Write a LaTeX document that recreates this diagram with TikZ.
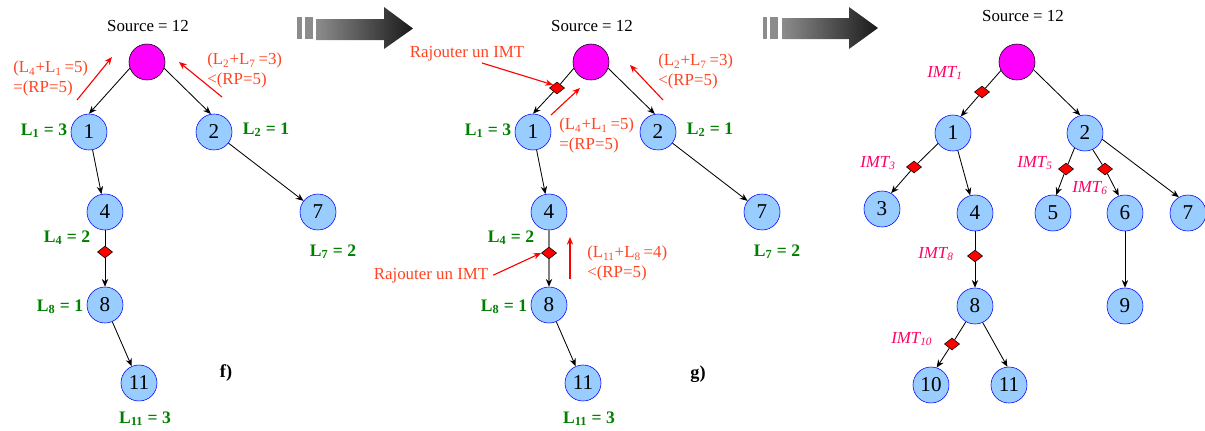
\documentclass[tikz,border=0pt]{standalone}
\usepackage{fontspec}
\setmainfont{Liberation Serif}
\usetikzlibrary{arrows.meta, shapes.geometric}

\definecolor{bleunoeud}{HTML}{99CCFF}
\definecolor{vertcharge}{HTML}{008000}
\definecolor{rougenote}{HTML}{FF4422}
\definecolor{roseimt}{HTML}{FF0066}
\definecolor{racinerose}{HTML}{FF00FF}

\begin{document}
\begin{tikzpicture}[x=0.025cm, y=-0.025cm, >={Stealth[length=5.5pt, width=4.5pt]},
    sommet/.style={circle, draw=blue, fill=bleunoeud, minimum size=0.9cm, inner sep=0pt,
        font=\fontsize{15}{17}\selectfont},
    racine/.style={circle, draw=black, fill=racinerose, minimum size=0.9cm, inner sep=0pt},
    losange/.style={diamond, draw=black, fill=red, minimum width=0.38cm, minimum height=0.3cm, inner sep=0pt},
    lien/.style={line width=0.6pt},
    charge/.style={anchor=base, text=vertcharge, font=\fontsize{12.5}{14}\selectfont\bfseries},
    note/.style={anchor=north west, text=rougenote, font=\fontsize{12}{14.2}\selectfont, align=left, inner sep=0pt},
    signal/.style={->, red, line width=0.8pt},
    titre/.style={anchor=base, font=\fontsize{12}{14}\selectfont},
    imtlab/.style={anchor=base west, inner sep=0pt, text=roseimt, font=\fontsize{12}{14}\selectfont\itshape},
    fleche/.style={left color=black!45, right color=black!90}]
    \useasboundingbox (0,0) rectangle (1205,430);

    % grosses fleches entre les etapes
    \fill[black!45] (297,17) rectangle (302,39);
    \fill[black!45] (305,17) rectangle (313,39);
    \shade[fleche] (316,19) -- (384,19) -- (384,7) -- (413,28.5) -- (384,49) -- (384,40) -- (316,40) -- cycle;
    \fill[black!45] (763,17) rectangle (767,39);
    \fill[black!45] (770,17) rectangle (778,39);
    \shade[fleche] (782,18) -- (849,18) -- (849,7) -- (878,28) -- (849,49) -- (849,39) -- (782,39) -- cycle;

    % etape f)
    \node[titre] (fsrc) at (148,31) {Source = 12};
    \node[racine] (fr) at (147,62) {};
    \node[sommet] (f1) at (89,132) {1};
    \node[sommet] (f2) at (214,132) {2};
    \node[sommet] (f4) at (105,212) {4};
    \node[sommet] (f7) at (318,212) {7};
    \node[losange] (fd8) at (105,252) {};
    \node[sommet] (f8) at (105,305) {8};
    \node[sommet] (f11) at (139,383) {11};
    \draw[lien, ->] (fr.200) -- (f1.north);
    \draw[lien, ->] (fr.340) -- (f2.100);
    \draw[lien, ->] (f1) -- (f4);
    \draw[lien, ->] (f2) -- (f7);
    \draw[lien] (f4) -- (fd8);
    \draw[lien, ->] (fd8) -- (f8);
    \draw[lien, ->] (f8) -- (f11);
    \node[charge] (fl1) at (44,135) {L\textsubscript{1} = 3};
    \node[charge] (fl2) at (266,134) {L\textsubscript{2} = 1};
    \node[charge] (fl4) at (67,242) {L\textsubscript{4} = 2};
    \node[charge] (fl7) at (333,256) {L\textsubscript{7} = 2};
    \node[charge] (fl8) at (60,311) {L\textsubscript{8} = 1};
    \node[charge] (fl11) at (145,423) {L\textsubscript{11} = 3};
    \node[titre, font=\fontsize{13}{15}\selectfont\bfseries] (fnom) at (226,377) {f)};
    \node[note] (fn1) at (13,61) {(L\textsubscript{4}+L\textsubscript{1}\,=5)\\=(RP=5)};
    \node[note] (fn2) at (207,53) {(L\textsubscript{2}+L\textsubscript{7}\,=3)\\<(RP=5)};
    \coordinate (fs1a) at (77,100);
    \coordinate (fs1b) at (112,57);
    \coordinate (fs2a) at (222,97);
    \coordinate (fs2b) at (179,62);
    \draw[signal] (fs1a) -- (fs1b);
    \draw[signal] (fs2a) -- (fs2b);

    % etape g)
    \node[titre] (gsrc) at (592,31) {Source = 12};
    \node[racine] (gr) at (591,62) {};
    \node[losange] (gd1) at (557,88) {};
    \node[sommet] (g1) at (533,132) {1};
    \node[sommet] (g2) at (658,132) {2};
    \node[sommet] (g4) at (549,212) {4};
    \node[sommet] (g7) at (762,212) {7};
    \node[losange] (gd8) at (549,253) {};
    \node[sommet] (g8) at (549,305) {8};
    \node[sommet] (g11) at (583,383) {11};
    \draw[lien] (gr.200) -- (gd1);
    \draw[lien, ->] (gd1) -- (g1.north);
    \draw[lien, ->] (gr.340) -- (g2.100);
    \draw[lien, ->] (g1) -- (g4);
    \draw[lien, ->] (g2) -- (g7);
    \draw[line width=1pt, gray] (g4) -- (gd8);
    \draw[line width=1pt, gray, -{Stealth[black, length=5.5pt, width=4.5pt]}] (gd8) -- (g8);
    \draw[lien, ->] (g8) -- (g11);
    \node[charge] (gl1) at (488,135) {L\textsubscript{1} = 3};
    \node[charge] (gl2) at (710,134) {L\textsubscript{2} = 1};
    \node[charge] (gl4) at (511,242) {L\textsubscript{4} = 2};
    \node[charge] (gl7) at (777,256) {L\textsubscript{7} = 2};
    \node[charge] (gl8) at (504,311) {L\textsubscript{8} = 1};
    \node[charge] (gl11) at (589,423) {L\textsubscript{11} = 3};
    \node[titre, font=\fontsize{13}{15}\selectfont\bfseries] (gnom) at (698,378) {g)};
    \node[note] (gn1) at (559,118) {(L\textsubscript{4}+L\textsubscript{1}\,=5)\\=(RP=5)};
    \node[note] (gn2) at (658,54) {(L\textsubscript{2}+L\textsubscript{7}\,=3)\\<(RP=5)};
    \node[note] (gn3) at (587,246) {(L\textsubscript{11}+L\textsubscript{8}\,=4)\\<(RP=5)};
    \node[titre, text=rougenote] (gaj1) at (467,57) {Rajouter un IMT};
    \node[titre, text=rougenote] (gaj2) at (431,279) {Rajouter un IMT};
    \coordinate (gaj1pied) at (482,63);
    \draw[signal] (gaj1pied) -- (gd1.north west);
    \draw[signal] (gaj2.east) -- (gd8.west);
    \coordinate (gs1a) at (551,115);
    \coordinate (gs1b) at (580,88);
    \coordinate (gs2a) at (663,100);
    \coordinate (gs2b) at (630,65);
    \coordinate (gs3a) at (570,279);
    \coordinate (gs3b) at (570,237);
    \draw[signal] (gs1a) -- (gs1b);
    \draw[signal] (gs2a) -- (gs2b);
    \draw[signal] (gs3a) -- (gs3b);

    % arbre final avec les IMT
    \node[titre] (hsrc) at (1023,21) {Source = 12};
    \node[racine] (hr) at (1017,62) {};
    \node[losange] (hd1) at (982,92) {};
    \node[sommet] (h1) at (953,133) {1};
    \node[sommet] (h2) at (1085,133) {2};
    \node[losange] (hd3) at (914,167) {};
    \node[losange] (hd5) at (1066,169) {};
    \node[losange] (hd6) at (1105,169) {};
    \node[sommet] (h3) at (882,209) {3};
    \node[sommet] (h4) at (975,213) {4};
    \node[sommet] (h5) at (1053,213) {5};
    \node[sommet] (h6) at (1125,213) {6};
    \node[sommet] (h7) at (1188,213) {7};
    \node[losange] (hd8) at (975,256) {};
    \node[sommet] (h8) at (975,306) {8};
    \node[sommet] (h9) at (1125,306) {9};
    \node[losange] (hd10) at (952,344) {};
    \node[sommet] (h10) at (931,385) {10};
    \node[sommet] (h11) at (1009,385) {11};
    \draw[lien] (hr.208) -- (hd1);
    \draw[lien, ->] (hd1) -- (h1.65);
    \draw[lien, ->] (hr.335) -- (h2.105);
    \draw[lien] (h1.215) -- (hd3);
    \draw[lien, ->] (hd3) -- (h3.60);
    \draw[lien, ->] (h1) -- (h4);
    \draw[lien] (h2.235) -- (hd5);
    \draw[lien, ->] (hd5) -- (h5.80);
    \draw[lien] (h2.295) -- (hd6);
    \draw[lien, ->] (hd6) -- (h6.110);
    \draw[lien, ->] (h2.340) -- (h7.120);
    \draw[lien] (h4) -- (hd8);
    \draw[lien, ->] (hd8) -- (h8);
    \draw[lien, ->] (h6) -- (h9);
    \draw[lien] (h8.240) -- (hd10);
    \draw[lien, ->] (hd10) -- (h10.72);
    \draw[lien, ->] (h8.295) -- (h11.95);
    \node[imtlab] (himt1) at (927,77) {IMT\textsubscript{1}};
    \node[imtlab] (himt3) at (860,167) {IMT\textsubscript{3}};
    \node[imtlab] (himt5) at (1017,167) {IMT\textsubscript{5}};
    \node[imtlab] (himt6) at (1072,192) {IMT\textsubscript{6}};
    \node[imtlab] (himt8) at (918,258) {IMT\textsubscript{8}};
    \node[imtlab] (himt10) at (891,343) {IMT\textsubscript{10}};
\end{tikzpicture}
\end{document}
